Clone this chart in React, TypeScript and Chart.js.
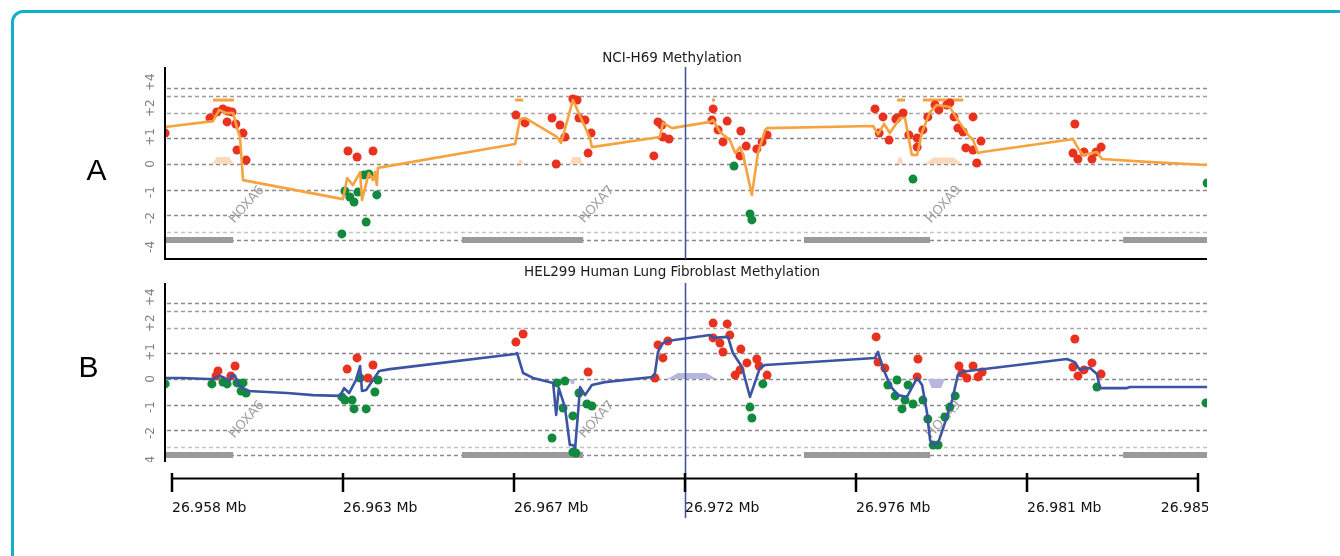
import React, { useEffect, useRef } from "react";
import { Chart, registerables } from "chart.js";

Chart.register(...registerables);

// ---------- axis / ruler data ----------
// genomic position in kb, relative to 26.958 Mb
const X_MIN_KB = -0.184;
const X_MAX_KB = 27.237;
const rulerTicksKb = [0, 4.5, 9, 13.5, 18, 22.5, 27];
const rulerLabels = ["26.958 Mb", "26.963 Mb", "26.967 Mb", "26.972 Mb", "26.976 Mb", "26.981 Mb", "26.985 Mb"];
const cursorKb = 13.5;

// methylation scale (display units)
const gridValues = [2.92, 2.62, 1.96, 1, 0, -1, -1.96, -2.62, -2.92];
const gridColors = ["#8a8a8a", "#9a9a9a", "#a8a8a8", "#8a8a8a", "#8a8a8a", "#8a8a8a", "#8a8a8a", "#c4c4c4", "#8a8a8a"];
const yTickValues = [3.15, 2.15, 1.04, 0, -1.08, -2.08, -3.19];
const yTickLabels = ["+4", "+2", "+1", "0", "-1", "-2", "-4"];

const panelTitles = ["NCI-H69 Methylation", "HEL299 Human Lung Fibroblast Methylation"];
const panelLetters = ["A", "B"];

// ---------- genes ----------
const geneNames = ["HOXA6", "HOXA7", "HOXA9", "HOXA10"];
const geneStartKb = [-0.18, 7.63, 16.63, 25.03];
const geneEndKb = [1.61, 10.82, 19.95, 28.6];
const geneTrackLevel = -2.92;
const geneLabelLevel = -2.3;

// CpG island marks (panel A)
const cpgStartKb = [1.08, 9.03, 14.21, 19.08, 19.76];
const cpgEndKb = [1.63, 9.24, 14.29, 19.29, 20.82];
const cpgLevel = 2.46;

// pale peak areas
const h69PeakStart = [1.05, 9.11, 10.47, 19.08, 19.82];
const h69PeakEnd = [1.63, 9.24, 10.82, 19.24, 20.79];
const h69PeakHeight = [0.27, 0.15, 0.27, 0.25, 0.25];
const helPeakStart = [10.47, 13.03, 19.89];
const helPeakEnd = [10.61, 14.34, 20.34];
const helPeakHeight = [-0.19, 0.23, -0.35];

// ---------- NCI-H69 ----------
const h69Smooth: [number, number][] = [
  [-0.18, 1.42], [1.08, 1.65], [1.24, 2.08], [1.42, 1.96], [1.61, 1.96], [1.71, 1.38], [1.79, 1.04], [1.87, -0.62],
  [4.5, -1.35], [4.61, -0.54], [4.76, -0.81], [4.95, -0.31], [5.0, -1.38], [5.18, -0.35], [5.29, -0.62], [5.34, -0.31], [5.39, -0.81], [5.42, -0.15],
  [9.03, 0.77], [9.16, 1.73], [9.29, 1.77], [10.13, 1.04], [10.24, 0.81], [10.55, 2.46], [11.0, 1.0], [11.05, 0.65],
  [12.84, 1.04], [12.92, 1.58], [13.16, 1.38], [14.16, 1.62], [14.24, 1.69], [14.42, 1.23], [14.68, 0.92], [14.82, 0.42], [14.95, 0.65], [15.03, 0.35], [15.26, -1.19], [15.42, 0.42], [15.61, 1.31], [15.66, 1.38],
  [18.45, 1.46], [18.58, 1.15], [18.74, 1.54], [18.89, 1.19], [19.16, 1.77], [19.29, 1.77], [19.47, 0.35], [19.61, 0.35], [19.74, 1.23], [19.95, 2.0], [20.13, 2.27], [20.47, 2.19], [20.68, 1.69], [20.95, 1.12], [21.08, 0.92], [21.21, 0.42], [21.32, 0.46],
  [23.55, 0.92], [23.71, 0.96], [23.84, 0.62], [23.97, 0.35], [24.34, 0.46], [24.47, 0.19], [25.66, 0.08], [27.24, -0.04],
];
const h69High: [number, number][] = [
  [-0.18, 1.19], [1.0, 1.77], [1.18, 2.0], [1.34, 2.12], [1.47, 2.04], [1.58, 2.0], [1.45, 1.62], [1.68, 1.54], [1.87, 1.19], [1.71, 0.54], [1.95, 0.15],
  [4.63, 0.5], [4.87, 0.27], [5.29, 0.5],
  [9.05, 1.88], [9.29, 1.58], [10.0, 1.77], [10.21, 1.5], [10.34, 1.04], [10.55, 2.5], [10.66, 2.46], [10.71, 1.77], [10.87, 1.69], [11.03, 1.19], [10.95, 0.42], [10.11, 0.0],
  [12.68, 0.31], [12.79, 1.62], [12.89, 1.5], [12.92, 1.04], [13.08, 0.96],
  [14.24, 2.12], [14.21, 1.69], [14.61, 1.65], [14.37, 1.31], [14.5, 0.85], [14.97, 1.27], [15.11, 0.69], [14.95, 0.31], [15.39, 0.58], [15.53, 0.85], [15.66, 1.12],
  [18.5, 2.12], [18.71, 1.81], [18.61, 1.19], [18.87, 0.92], [19.08, 1.77], [19.24, 1.96], [19.05, 1.73], [19.39, 1.12], [19.61, 1.0], [19.61, 0.65], [19.76, 1.31],
  [19.89, 1.81], [20.08, 2.27], [20.18, 2.08], [20.39, 2.27], [20.47, 2.35], [20.58, 1.81], [20.68, 1.38], [20.82, 1.23], [20.89, 0.62], [21.08, 1.81], [21.29, 0.88], [21.08, 0.54], [21.18, 0.04],
  [23.76, 1.54], [23.71, 0.42], [23.84, 0.19], [24.0, 0.46], [24.21, 0.19], [24.32, 0.46], [24.45, 0.65],
];
const h69Low: [number, number][] = [
  [4.55, -1.04], [4.68, -1.27], [4.79, -1.46], [4.89, -1.08], [5.05, -0.42], [5.18, -0.38], [5.39, -1.19], [5.11, -2.23], [4.47, -2.69],
  [14.79, -0.08], [15.21, -1.92], [15.26, -2.15], [19.5, -0.58], [27.24, -0.73],
];

// ---------- HEL299 ----------
const helSmooth: [number, number][] = [
  [-0.18, 0.04], [0.26, 0.04], [0.95, 0.0], [1.08, 0.0], [1.18, 0.08], [1.26, 0.12], [1.39, 0.04], [1.5, -0.08], [1.58, 0.15], [1.66, 0.12], [1.76, -0.23], [1.87, -0.35], [2.0, -0.46],
  [3.03, -0.54], [3.71, -0.62], [4.42, -0.65], [4.53, -0.35], [4.66, -0.54], [4.84, -0.04], [4.95, 0.5], [5.0, -0.46], [5.11, -0.42], [5.29, -0.04], [5.45, 0.31], [5.74, 0.38],
  [9.03, 0.96], [9.08, 1.0], [9.24, 0.23], [9.5, 0.04], [10.03, -0.15], [10.11, -1.38], [10.18, -0.35], [10.34, -1.08], [10.47, -2.54], [10.55, -2.54], [10.61, -2.65], [10.74, -0.31], [10.87, -0.62], [11.05, -0.23], [11.39, -0.12],
  [12.66, 0.08], [12.71, 0.23], [12.79, 1.04], [12.92, 1.38], [13.03, 1.46], [14.16, 1.69], [14.24, 1.58], [14.63, 1.62], [14.76, 1.0], [15.0, 0.46], [15.21, -0.69], [15.47, 0.42], [15.61, 0.54],
  [18.5, 0.81], [18.58, 1.04], [18.71, 0.42], [18.84, -0.04], [18.95, -0.35], [19.11, -0.62], [19.34, -0.69], [19.61, 0.04], [19.74, -0.23], [19.87, -1.31], [19.95, -2.35], [20.03, -2.54], [20.16, -2.46], [20.34, -1.69], [20.53, -0.81], [20.68, 0.15], [20.79, 0.27], [20.95, 0.31],
  [23.55, 0.77], [23.76, 0.65], [23.89, 0.35], [24.03, 0.42], [24.16, 0.42], [24.34, 0.19], [24.42, -0.35], [25.13, -0.35], [25.21, -0.31], [27.24, -0.31],
];
const helHigh: [number, number][] = [
  [1.21, 0.31], [1.16, 0.12], [1.55, 0.12], [1.66, 0.5],
  [4.61, 0.38], [4.87, 0.81], [5.16, 0.04], [5.29, 0.54],
  [9.05, 1.42], [9.24, 1.73], [10.95, 0.27],
  [12.71, 0.04], [12.79, 1.31], [12.92, 0.81], [13.05, 1.46],
  [14.24, 2.15], [14.61, 2.12], [14.24, 1.58], [14.42, 1.38], [14.5, 1.04], [14.68, 1.69], [14.97, 1.15], [14.82, 0.15], [14.95, 0.35], [15.13, 0.62], [15.39, 0.77], [15.45, 0.5], [15.66, 0.15],
  [18.53, 1.62], [18.58, 0.65], [18.76, 0.42], [19.63, 0.77], [19.61, 0.08],
  [20.71, 0.5], [20.79, 0.23], [20.92, 0.04], [21.08, 0.5], [21.21, 0.08], [21.32, 0.27],
  [23.76, 1.54], [23.71, 0.46], [23.84, 0.12], [24.0, 0.35], [24.21, 0.62], [24.45, 0.19],
];
const helLow: [number, number][] = [
  [-0.18, -0.19], [1.05, -0.19], [1.34, -0.12], [1.45, -0.19], [1.71, -0.15], [1.87, -0.15], [1.82, -0.46], [1.95, -0.54],
  [4.47, -0.69], [4.55, -0.81], [4.74, -0.81], [4.79, -1.15], [5.11, -1.15], [5.34, -0.5], [5.42, -0.04], [4.95, 0.04],
  [10.13, -0.15], [10.34, -0.08], [10.29, -1.12], [10.55, -1.42], [10.0, -2.27], [10.63, -2.85], [10.55, -2.81], [10.71, -0.54], [10.92, -0.96], [11.05, -1.04],
  [15.21, -1.08], [15.26, -1.5], [15.55, -0.19],
  [18.84, -0.23], [19.08, -0.04], [19.37, -0.23], [19.03, -0.65], [19.29, -0.81], [19.21, -1.15], [19.5, -0.96], [19.76, -0.81], [19.89, -1.54],
  [20.03, -2.54], [20.16, -2.54], [20.34, -1.46], [20.47, -1.08], [20.61, -0.65],
  [24.34, -0.31], [27.21, -0.92],
];

// ---------- layout (pixels) ----------
const W = 1340;
const H = 556;
const PLOT_LEFT = 165;
const PLOT_RIGHT = 1207;
const PLOT_TOP = 67;
const PLOT_BOTTOM = 462;
const UNIT_PX = 26;
const A_ZERO = 164;
const B_ZERO = 379;
const A_BOTTOM = 259;
const B_TOP = 283;

const ORANGE = "#f6a33f";
const BLUE = "#3b54a3";
const RED = "#e8321f";
const GREEN = "#128a3e";

const toXY = (arr: [number, number][]) => arr.map(([x, y]) => ({ x, y }));

function trapezoid(s: number, e: number, h: number) {
  const w = (e - s) * 0.22;
  return [
    { x: s, y: 0 },
    { x: s + w, y: h },
    { x: e - w, y: h },
    { x: e, y: 0 },
  ];
}

const decorPlugin = {
  id: "genomeDecor",
  beforeDatasetsDraw(chart: any) {
    const { ctx, chartArea, scales } = chart;
    const xs = scales.x;
    const panels = [scales.yA, scales.yB];
    ctx.save();
    // dashed grid
    ctx.lineWidth = 1.5;
    ctx.setLineDash([4, 3]);
    panels.forEach((ys: any) => {
      gridValues.forEach((v, i) => {
        const py = Math.round(ys.getPixelForValue(v)) + 0.5;
        ctx.strokeStyle = gridColors[i];
        ctx.beginPath();
        ctx.moveTo(chartArea.left + 2, py);
        ctx.lineTo(chartArea.right, py);
        ctx.stroke();
      });
    });
    ctx.setLineDash([]);
    // gene labels
    ctx.fillStyle = "#a0a0a0";
    ctx.font = "13px 'DejaVu Sans'";
    ctx.textAlign = "left";
    ctx.textBaseline = "alphabetic";
    panels.forEach((ys: any) => {
      geneNames.forEach((name, i) => {
        const px = xs.getPixelForValue(geneEndKb[i]);
        if (px > chartArea.right) return;
        const py = ys.getPixelForValue(geneLabelLevel);
        ctx.save();
        ctx.translate(px + 1, py);
        ctx.rotate(-48 * Math.PI / 180);
        ctx.fillText(name, 0, 0);
        ctx.restore();
      });
    });
    ctx.restore();
  },
  afterDatasetsDraw(chart: any) {
    const { ctx, chartArea, scales } = chart;
    const xs = scales.x;
    const yA = scales.yA;
    const yB = scales.yB;
    ctx.save();
    // axis lines
    ctx.strokeStyle = "#000";
    ctx.lineWidth = 2;
    ctx.beginPath();
    ctx.moveTo(chartArea.left, chartArea.top);
    ctx.lineTo(chartArea.left, A_BOTTOM);
    ctx.lineTo(chartArea.right, A_BOTTOM);
    ctx.stroke();
    ctx.beginPath();
    ctx.moveTo(chartArea.left, B_TOP);
    ctx.lineTo(chartArea.left, chartArea.bottom);
    ctx.stroke();

    // cursor
    const cx = Math.round(xs.getPixelForValue(cursorKb)) + 0.5;
    ctx.strokeStyle = "#3a4f9f";
    ctx.lineWidth = 1.5;
    ctx.beginPath();
    ctx.moveTo(cx, chartArea.top);
    ctx.lineTo(cx, A_BOTTOM);
    ctx.moveTo(cx, B_TOP);
    ctx.lineTo(cx, 518);
    ctx.stroke();

    // y tick labels (rotated)
    ctx.save();
    ctx.beginPath();
    ctx.rect(0, 0, W, chartArea.bottom);
    ctx.clip();
    ctx.fillStyle = "#808080";
    ctx.font = "12px 'DejaVu Sans'";
    ctx.textAlign = "center";
    ctx.textBaseline = "middle";
    [yA, yB].forEach((ys: any) => {
      yTickValues.forEach((v, i) => {
        ctx.save();
        ctx.translate(151, ys.getPixelForValue(v));
        ctx.rotate(-Math.PI / 2);
        ctx.fillText(yTickLabels[i], 0, 0);
        ctx.restore();
      });
    });
    ctx.restore();

    // titles
    ctx.fillStyle = "#1a1a1a";
    ctx.font = "13.5px 'DejaVu Sans'";
    ctx.textAlign = "center";
    ctx.textBaseline = "alphabetic";
    const tx = (chartArea.left + chartArea.right) / 2 - 14;
    ctx.fillText(panelTitles[0], tx, 62);
    ctx.fillText(panelTitles[1], tx, 276);

    // panel letters
    ctx.fillStyle = "#000";
    ctx.font = "30px 'Liberation Sans'";
    ctx.fillText(panelLetters[0], 96.5, 180);
    ctx.fillText(panelLetters[1], 88.5, 377);

    // ruler
    const r0 = xs.getPixelForValue(rulerTicksKb[0]);
    const r1 = xs.getPixelForValue(rulerTicksKb[rulerTicksKb.length - 1]);
    ctx.strokeStyle = "#000";
    ctx.lineWidth = 2;
    ctx.beginPath();
    ctx.moveTo(r0, 478.5);
    ctx.lineTo(r1, 478.5);
    ctx.stroke();
    ctx.lineWidth = 2.5;
    ctx.font = "14px 'DejaVu Sans'";
    ctx.textBaseline = "middle";
    ctx.fillStyle = "#111";
    ctx.save();
    ctx.beginPath();
    ctx.rect(0, 0, chartArea.right + 1, H);
    ctx.clip();
    rulerTicksKb.forEach((t, i) => {
      const px = xs.getPixelForValue(t);
      ctx.beginPath();
      ctx.moveTo(px, 473);
      ctx.lineTo(px, 492);
      ctx.stroke();
      const w = ctx.measureText(rulerLabels[i]).width;
      ctx.textAlign = px + w > chartArea.right ? "center" : "left";
      ctx.fillText(rulerLabels[i], px, 508);
    });
    ctx.restore();
    ctx.restore();
  },
};

export default function App() {
  const ref = useRef<HTMLCanvasElement>(null);
  useEffect(() => {
    const canvas = ref.current;
    if (!canvas) return;
    const pointDs = (data: [number, number][], color: string, axis: string) => ({
      data: toXY(data),
      yAxisID: axis,
      showLine: false,
      pointRadius: 4.5,
      pointBackgroundColor: color,
      pointBorderWidth: 0,
      borderWidth: 0,
      order: 1,
      clip: 0,
    });
    const lineDs = (data: [number, number][], color: string, axis: string) => ({
      data: toXY(data),
      yAxisID: axis,
      borderColor: color,
      borderWidth: 2.6,
      pointRadius: 0,
      tension: 0,
      fill: false,
      borderJoinStyle: "round",
      order: 0,
      clip: 0,
    });
    const segDs = (s: number, e: number, level: number, color: string, width: number, axis: string) => ({
      data: [{ x: s, y: level }, { x: e, y: level }],
      yAxisID: axis,
      borderColor: color,
      borderWidth: width,
      borderCapStyle: "butt",
      pointRadius: 0,
      fill: false,
      order: 3,
      clip: 0,
    });
    const areaDs = (s: number, e: number, h: number, color: string, axis: string) => ({
      data: trapezoid(s, e, h),
      yAxisID: axis,
      borderWidth: 0,
      borderColor: "rgba(0,0,0,0)",
      backgroundColor: color,
      fill: "origin",
      pointRadius: 0,
      order: 4,
      clip: 0,
    });

    const datasets: any[] = [
      lineDs(h69Smooth, ORANGE, "yA"),
      pointDs(h69High, RED, "yA"),
      pointDs(h69Low, GREEN, "yA"),
      lineDs(helSmooth, BLUE, "yB"),
      pointDs(helHigh, RED, "yB"),
      pointDs(helLow, GREEN, "yB"),
    ];
    geneStartKb.forEach((s, i) => {
      datasets.push(segDs(s, geneEndKb[i], geneTrackLevel, "#9a9a9a", 6, "yA"));
      datasets.push(segDs(s, geneEndKb[i], geneTrackLevel, "#9a9a9a", 6, "yB"));
    });
    cpgStartKb.forEach((s, i) => {
      datasets.push(segDs(s, cpgEndKb[i], cpgLevel, ORANGE, 3, "yA"));
    });
    h69PeakStart.forEach((s, i) => {
      datasets.push(areaDs(s, h69PeakEnd[i], h69PeakHeight[i], "#fcd9bb", "yA"));
    });
    helPeakStart.forEach((s, i) => {
      datasets.push(areaDs(s, helPeakEnd[i], helPeakHeight[i], "#b6b6de", "yB"));
    });

    const chart = new Chart(canvas, {
      type: "line",
      data: { datasets },
      options: {
        responsive: false,
        animation: false,
        devicePixelRatio: 1,
        events: [],
        layout: {
          padding: { left: PLOT_LEFT, right: W - PLOT_RIGHT, top: PLOT_TOP, bottom: H - PLOT_BOTTOM },
        },
        plugins: { legend: { display: false }, tooltip: { enabled: false }, title: { display: false } },
        scales: {
          x: { type: "linear", min: X_MIN_KB, max: X_MAX_KB, display: false },
          yA: {
            type: "linear",
            position: "left",
            display: false,
            max: (A_ZERO - PLOT_TOP) / UNIT_PX,
            min: (A_ZERO - PLOT_BOTTOM) / UNIT_PX,
          },
          yB: {
            type: "linear",
            position: "left",
            display: false,
            max: (B_ZERO - PLOT_TOP) / UNIT_PX,
            min: (B_ZERO - PLOT_BOTTOM) / UNIT_PX,
          },
        },
      } as any,
      plugins: [decorPlugin],
    });
    return () => chart.destroy();
  }, []);

  return (
    <div style={{ position: "fixed", left: 0, top: 0, width: W, height: H, background: "#fff", overflow: "hidden" }}>
      <div
        style={{
          position: "absolute",
          left: 11,
          top: 10,
          width: 1400,
          height: 620,
          border: "3px solid #13b0c8",
          borderRadius: 12,
          boxSizing: "border-box",
        }}
      />
      <canvas ref={ref} width={W} height={H} style={{ position: "absolute", left: 0, top: 0, width: W, height: H }} />
    </div>
  );
}
